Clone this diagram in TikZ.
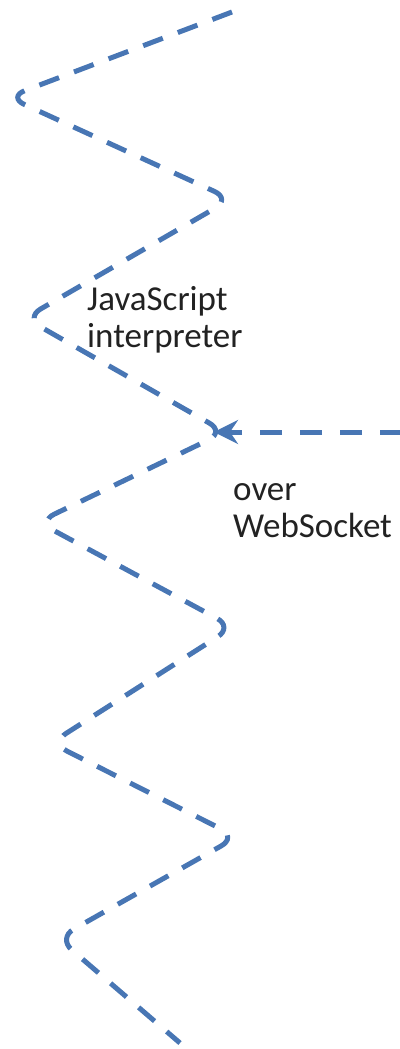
\documentclass[tikz,border=0pt]{standalone}
\usepackage{fontspec}
\setmainfont{Carlito}
\usetikzlibrary{arrows.meta}
\definecolor{wire}{RGB}{72,118,180}
\definecolor{ink}{RGB}{34,34,34}
\tikzset{
  wave/.style={draw=wire, line width=5pt, dash pattern=on 21pt off 16pt, rounded corners=18pt},
  feed/.style={draw=wire, line width=5pt, dash pattern=on 22pt off 18pt,
    -{Stealth[length=24pt, width=24pt, inset=8pt]}},
  label/.style={inner sep=0pt, anchor=base west, align=left, text=ink,
    font=\fontsize{35}{37}\selectfont},
}
\begin{document}
\begin{tikzpicture}[x=1pt, y=-1pt]
  \useasboundingbox (0,0) rectangle (399,1049);
  % turning points of the wavy line
  \coordinate (p0) at (232,12);
  \coordinate (p1) at (8,97);
  \coordinate (p2) at (231,199);
  \coordinate (p3) at (25,318);
  \coordinate (p4) at (225,432);
  \coordinate (p5) at (38,522);
  \coordinate (p6) at (233,627);
  \coordinate (p7) at (51,743);
  \coordinate (p8) at (237,837);
  \coordinate (p9) at (58,938);
  \coordinate (p10) at (180,1043);
  % the incoming feed
  \coordinate (src) at (402,432);
  \coordinate (tip) at (214,432);
  \path[wave] (p0) -- (p1) -- (p2) -- (p3) -- (p4) -- (p5) -- (p6)
    -- (p7) -- (p8) -- (p9) -- (p10);
  \path[feed] (src) -- (tip);
  % the base anchor sits on the last line
  \node[label] (js) at (87,347) {JavaScript\\interpreter};
  \node[label] (ws) at (233,537) {over\\WebSocket};
\end{tikzpicture}
\end{document}
